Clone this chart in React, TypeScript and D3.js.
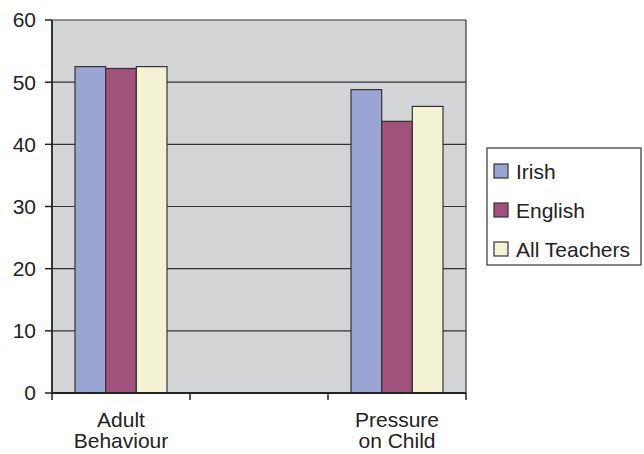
import React from "react";
import * as d3 from "d3";

const categories = ["Adult Behaviour", "", "Pressure on Child"];
const categoryLines = [["Adult", "Behaviour"], [], ["Pressure", "on Child"]];
const seriesNames = ["Irish", "English", "All Teachers"];
const irish = [52.5, null, 48.8];
const english = [52.2, null, 43.7];
const allTeachers = [52.5, null, 46.1];
const seriesValues = [irish, english, allTeachers];
const seriesColors = ["#9aa5d4", "#a0527a", "#f4f2d4"];
const yTicks = [0, 10, 20, 30, 40, 50, 60];

const W = 644;
const H = 454;
const margin = { left: 52, right: 178, top: 20, bottom: 61 };
const FONT = "Liberation Sans, Arial, sans-serif";

export default function App() {
  const x0 = d3
    .scaleBand<string>()
    .domain(categories)
    .range([margin.left, W - margin.right])
    .paddingInner(0)
    .paddingOuter(0);
  const y = d3.scaleLinear().domain([0, 60]).range([H - margin.bottom, margin.top]);
  const groupW = x0.bandwidth() / 1.5;
  const x1 = d3
    .scaleBand<string>()
    .domain(seriesNames)
    .range([0, groupW])
    .padding(0);
  const plotL = margin.left;
  const plotR = W - margin.right;
  const plotT = margin.top;
  const plotB = H - margin.bottom;
  const boundaries = d3.range(categories.length + 1).map((i) => plotL + i * x0.step());

  return (
    <svg
      width={W}
      height={H}
      style={{ position: "absolute", left: 0, top: 0, background: "#fff" }}
      fontFamily={FONT}
    >
      <rect x={plotL} y={plotT} width={plotR - plotL} height={plotB - plotT} fill="#d3d4d6" />
      {yTicks.map((t) => (
        <g key={t}>
          <line x1={plotL} x2={plotR} y1={y(t)} y2={y(t)} stroke="#333" strokeWidth={1.2} />
          <line x1={plotL - 7} x2={plotL} y1={y(t)} y2={y(t)} stroke="#222" strokeWidth={1.5} />
          <text x={36} y={y(t)} dy="0.35em" textAnchor="end" fontSize={21} fill="#222">
            {t}
          </text>
        </g>
      ))}
      <line x1={plotR} x2={plotR} y1={plotT} y2={plotB} stroke="#333" strokeWidth={1.2} />
      {categories.map((c, ci) =>
        seriesNames.map((s, si) => {
          const v = seriesValues[si][ci];
          if (v == null) return null;
          const bx = (x0(c) as number) + (x0.bandwidth() - groupW) / 2 + (x1(s) as number);
          return (
            <rect
              key={c + s}
              x={bx}
              y={y(v)}
              width={x1.bandwidth()}
              height={y(0) - y(v)}
              fill={seriesColors[si]}
              stroke="#333"
              strokeWidth={1.2}
            />
          );
        })
      )}
      <line x1={plotL} x2={plotL} y1={plotT} y2={plotB} stroke="#222" strokeWidth={1.8} />
      <line x1={plotL} x2={plotR} y1={plotB} y2={plotB} stroke="#222" strokeWidth={1.8} />
      {boundaries.map((bx, i) => (
        <line key={i} x1={bx} x2={bx} y1={plotB} y2={plotB + 7} stroke="#222" strokeWidth={1.5} />
      ))}
      {categories.map((c, ci) => (
        <text
          key={ci}
          x={(x0(c) as number) + x0.bandwidth() / 2}
          textAnchor="middle"
          fontSize={21}
          fill="#222"
        >
          {categoryLines[ci].map((line, li) => (
            <tspan key={li} x={(x0(c) as number) + x0.bandwidth() / 2} y={427 + li * 21}>
              {line}
            </tspan>
          ))}
        </text>
      ))}
      <rect x={487} y={148} width={154} height={117} fill="#fff" stroke="#333" strokeWidth={1.2} />
      {seriesNames.map((s, i) => (
        <g key={s} transform={`translate(494, ${171 + i * 39})`}>
          <rect x={0} y={-7} width={14} height={14} fill={seriesColors[i]} stroke="#333" strokeWidth={1.2} />
          <text x={22} y={0} dy="0.36em" fontSize={21} fill="#222">
            {s}
          </text>
        </g>
      ))}
    </svg>
  );
}
